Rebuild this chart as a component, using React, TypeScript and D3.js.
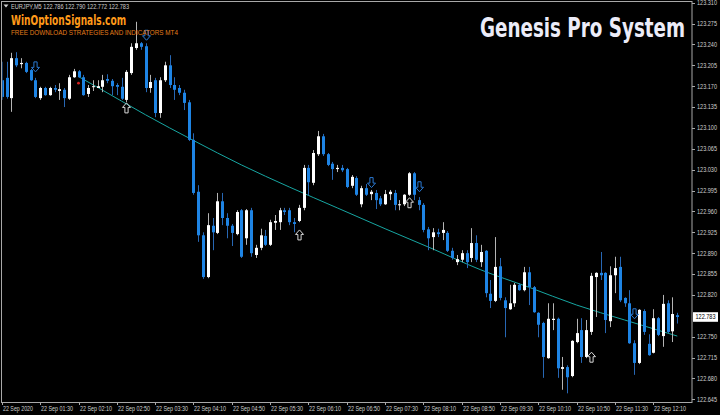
import React, { useLayoutEffect, useRef, useState } from 'react';
import * as d3 from 'd3';

const W = 720;
const H = 415;

const symbol = 'EURJPY,M5';

const opens = [
  123.180, 123.184, 123.150, 123.217, 123.207, 123.209, 123.197, 123.180, 123.150, 123.167,
  123.155, 123.167, 123.162, 123.164, 123.149, 123.185, 123.195, 123.185, 123.157, 123.169,
  123.167, 123.169, 123.182, 123.179, 123.172, 123.169, 123.147, 123.192, 123.234, 123.242,
  123.237, 123.167, 123.180, 123.125, 123.180, 123.205, 123.172, 123.167, 123.159, 123.143,
  123.080, 122.993, 122.920, 122.850, 122.936, 122.924, 122.977, 122.949, 122.936, 122.922,
  122.962, 122.915, 122.962, 122.887, 122.899, 122.919, 122.904, 122.941, 122.942, 122.962,
  122.962, 122.942, 122.944, 122.966, 123.033, 123.008, 123.056, 123.086, 123.056, 123.040,
  123.031, 123.033, 123.031, 123.003, 123.016, 122.972, 122.999, 122.989, 122.991, 122.982,
  122.972, 122.989, 122.991, 122.971, 122.972, 122.988, 123.024, 122.979, 122.971, 122.930,
  122.917, 122.925, 122.924, 122.924, 122.894, 122.875, 122.879, 122.890, 122.882, 122.907,
  122.875, 122.894, 122.822, 122.810, 122.868, 122.811, 122.796, 122.806, 122.837, 122.828,
  122.858, 122.833, 122.790, 122.773, 122.714, 122.778, 122.780, 122.696, 122.699, 122.684,
  122.741, 122.761, 122.716, 122.758, 122.850, 122.857, 122.857, 122.776, 122.853, 122.867,
  122.815, 122.806, 122.739, 122.706, 122.793, 122.738, 122.723, 122.781, 122.751, 122.806,
  122.759, 122.786,
];
const highs = [
  123.211, 123.211, 123.226, 123.227, 123.217, 123.211, 123.199, 123.184, 123.169, 123.169,
  123.169, 123.172, 123.175, 123.167, 123.189, 123.199, 123.197, 123.189, 123.172, 123.180,
  123.180, 123.189, 123.190, 123.182, 123.175, 123.184, 123.197, 123.242, 123.278, 123.244,
  123.242, 123.189, 123.184, 123.185, 123.211, 123.222, 123.185, 123.172, 123.164, 123.147,
  123.091, 123.004, 122.925, 122.957, 122.949, 122.991, 122.991, 122.957, 122.939, 122.962,
  122.964, 122.964, 122.966, 122.904, 122.931, 122.929, 122.946, 122.954, 122.966, 122.966,
  122.966, 122.949, 122.971, 123.038, 123.038, 123.063, 123.095, 123.090, 123.058, 123.043,
  123.038, 123.038, 123.033, 123.021, 123.019, 123.003, 123.006, 122.996, 122.996, 122.986,
  122.996, 122.996, 122.996, 122.979, 122.989, 123.026, 123.026, 122.984, 122.974, 122.934,
  122.932, 122.931, 122.942, 122.927, 122.899, 122.887, 122.895, 122.895, 122.932, 122.920,
  122.904, 122.895, 122.845, 122.917, 122.882, 122.816, 122.837, 122.840, 122.840, 122.867,
  122.867, 122.835, 122.791, 122.775, 122.806, 122.806, 122.782, 122.716, 122.702, 122.744,
  122.780, 122.781, 122.778, 122.857, 122.858, 122.892, 122.858, 122.868, 122.884, 122.884,
  122.816, 122.828, 122.744, 122.796, 122.796, 122.754, 122.796, 122.783, 122.820, 122.811,
  122.816, 122.790,
];
const lows = [
  123.147, 123.149, 123.127, 123.202, 123.200, 123.192, 123.179, 123.150, 123.147, 123.154,
  123.154, 123.160, 123.147, 123.135, 123.147, 123.184, 123.184, 123.154, 123.152, 123.162,
  123.167, 123.160, 123.175, 123.155, 123.155, 123.147, 123.143, 123.189, 123.231, 123.231,
  123.160, 123.159, 123.118, 123.117, 123.177, 123.167, 123.147, 123.155, 123.130, 123.078,
  122.988, 122.909, 122.847, 122.848, 122.895, 122.922, 122.937, 122.915, 122.902, 122.920,
  122.882, 122.904, 122.884, 122.882, 122.895, 122.902, 122.902, 122.929, 122.929, 122.954,
  122.937, 122.925, 122.942, 122.962, 122.987, 123.004, 123.053, 123.053, 123.036, 123.013,
  123.026, 123.026, 122.999, 122.999, 122.986, 122.967, 122.986, 122.979, 122.964, 122.969,
  122.971, 122.979, 122.962, 122.962, 122.969, 122.986, 122.979, 122.962, 122.925, 122.895,
  122.895, 122.917, 122.912, 122.892, 122.879, 122.870, 122.875, 122.865, 122.875, 122.875,
  122.867, 122.816, 122.798, 122.808, 122.811, 122.749, 122.795, 122.800, 122.827, 122.826,
  122.803, 122.790, 122.749, 122.681, 122.713, 122.761, 122.681, 122.661, 122.655, 122.682,
  122.739, 122.706, 122.714, 122.753, 122.783, 122.845, 122.756, 122.766, 122.823, 122.808,
  122.800, 122.738, 122.686, 122.704, 122.753, 122.718, 122.722, 122.751, 122.733, 122.756,
  122.741, 122.772,
];
const closes = [
  123.152, 123.152, 123.217, 123.205, 123.209, 123.194, 123.180, 123.152, 123.167, 123.155,
  123.167, 123.164, 123.165, 123.150, 123.185, 123.195, 123.185, 123.155, 123.167, 123.170,
  123.170, 123.180, 123.179, 123.170, 123.169, 123.149, 123.194, 123.236, 123.242, 123.236,
  123.167, 123.177, 123.125, 123.180, 123.205, 123.172, 123.164, 123.159, 123.142, 123.080,
  122.991, 122.920, 122.850, 122.937, 122.925, 122.977, 122.949, 122.936, 122.924, 122.959,
  122.884, 122.962, 122.890, 122.899, 122.920, 122.904, 122.942, 122.944, 122.962, 122.959,
  122.942, 122.939, 122.966, 123.033, 123.009, 123.058, 123.086, 123.056, 123.038, 123.031,
  123.033, 123.029, 123.001, 123.018, 122.988, 122.999, 122.988, 122.993, 122.979, 122.972,
  122.989, 122.993, 122.971, 122.972, 122.988, 123.024, 122.988, 122.971, 122.929, 122.915,
  122.925, 122.922, 122.929, 122.894, 122.882, 122.880, 122.890, 122.875, 122.907, 122.879,
  122.892, 122.823, 122.810, 122.867, 122.815, 122.798, 122.806, 122.837, 122.828, 122.858,
  122.833, 122.791, 122.770, 122.716, 122.780, 122.780, 122.697, 122.699, 122.682, 122.743,
  122.756, 122.716, 122.761, 122.852, 122.857, 122.853, 122.778, 122.853, 122.865, 122.811,
  122.806, 122.739, 122.706, 122.795, 122.758, 122.719, 122.781, 122.753, 122.805, 122.758,
  122.788, 122.783,
];

// time axis labels, one every 8 bars starting at bar 0
const timeLabels = [
  '22 Sep 2020', '22 Sep 01:30', '22 Sep 02:10', '22 Sep 02:50', '22 Sep 03:30', '22 Sep 04:10',
  '22 Sep 04:50', '22 Sep 05:30', '22 Sep 06:10', '22 Sep 06:50', '22 Sep 07:30', '22 Sep 08:10',
  '22 Sep 08:50', '22 Sep 09:30', '22 Sep 10:10', '22 Sep 10:50', '22 Sep 11:30', '22 Sep 12:10',
];
const labelStep = 8;

const priceTicks = [
  123.310, 123.275, 123.240, 123.205, 123.170, 123.135, 123.100, 123.065, 123.030, 122.995,
  122.960, 122.925, 122.890, 122.855, 122.820, 122.750, 122.715, 122.680, 122.645,
];

// moving average
const maBars = [16, 20, 30, 40, 50, 60, 70, 80, 90, 100, 110, 120, 130, 141];
const maValues = [
  123.186, 123.168, 123.122, 123.079, 123.038, 123.001, 122.966, 122.931, 122.897, 122.862,
  122.833, 122.803, 122.778, 122.751,
];

// signal arrows: bar index and price of the arrow tip
const upArrowBars = [26, 62, 85, 123];
const upArrowTips = [123.142, 122.929, 122.983, 122.724];
const downArrowBars = [7, 30, 77, 87, 132];
const downArrowTips = [123.194, 123.247, 123.000, 122.993, 122.780];

const dotBar = 16;
const dotPrice = 123.175;

const PL = 2;
const PR = 692;
const PT = 1;
const PB = 402;

const BULL = '#ffffff';
const BEAR = '#1e84e4';
const BULL_WICK = '#b4b4b4';
const BEAR_WICK = '#2767b4';
const FRAME = '#a8a8a8';
const TXT = '#cfcfcf';
const FONT = "'Liberation Sans', 'DejaVu Sans', sans-serif";
const BOLD_FONT = "'DejaVu Sans Condensed', 'DejaVu Sans', sans-serif";

// Text that is squeezed horizontally to an exact width with a transform
function FitText(props: {
  x: number;
  y: number;
  width: number;
  size: number;
  fill: string;
  family: string;
  weight?: string;
  children: string;
}) {
  const ref = useRef<SVGTextElement>(null);
  const [sx, setSx] = useState(0.6);
  useLayoutEffect(() => {
    if (ref.current) {
      const len = ref.current.getComputedTextLength();
      if (len > 0) setSx(props.width / len);
    }
  }, [props.width, props.children]);
  return (
    <g transform={`translate(${props.x},${props.y}) scale(${sx},1)`}>
      <text
        ref={ref}
        x={0}
        y={0}
        fontFamily={props.family}
        fontWeight={props.weight || 'normal'}
        fontSize={props.size}
        fill={props.fill}
      >
        {props.children}
      </text>
    </g>
  );
}

export default function App() {
  const n = opens.length;
  const x = d3.scaleLinear().domain([0, n - 1]).range([1.88, 1.88 + 4.79 * (n - 1)]);
  const y = d3.scaleLinear().domain([122.645, 123.31]).range([399.3, 2.7]);

  const ma = d3
    .line<number>()
    .x((_, i) => x(maBars[i]))
    .y((d) => y(d))
    .curve(d3.curveMonotoneX)(maValues) as string;

  const last = n - 1;
  const header = `${symbol}  ${opens[last].toFixed(3)} ${highs[last].toFixed(3)} ${lows[last].toFixed(3)} ${closes[last].toFixed(3)}`;

  const upPath = (cx: number, ty: number) =>
    `M${cx},${ty} L${cx + 4},${ty + 4.5} L${cx + 1.6},${ty + 4.5} L${cx + 1.6},${ty + 10} L${cx - 1.6},${ty + 10} L${cx - 1.6},${ty + 4.5} L${cx - 4},${ty + 4.5} Z`;
  const downPath = (cx: number, ty: number) =>
    `M${cx},${ty} L${cx + 4},${ty - 4.5} L${cx + 1.6},${ty - 4.5} L${cx + 1.6},${ty - 10} L${cx - 1.6},${ty - 10} L${cx - 1.6},${ty - 4.5} L${cx - 4},${ty - 4.5} Z`;

  return (
    <svg
      width={W}
      height={H}
      viewBox={`0 0 ${W} ${H}`}
      style={{ position: 'absolute', left: 0, top: 0, display: 'block', background: '#000' }}
    >
      <defs>
        <clipPath id="plot">
          <rect x={PL + 0.5} y={PT + 0.5} width={PR - PL - 1} height={PB - PT - 1} />
        </clipPath>
      </defs>
      <rect x={0} y={0} width={W} height={H} fill="#000" />

      <g clipPath="url(#plot)">
        {/* moving average */}
        <path d={ma} fill="none" stroke="#17a6a2" strokeWidth={1} />
        {opens.map((o, i) => {
          const c = closes[i];
          const bull = c >= o;
          const cx = Math.round(x(i));
          const yt = y(Math.max(o, c));
          const yb = y(Math.min(o, c));
          const hgt = Math.max(1, yb - yt);
          return (
            <g key={i}>
              <line
                x1={cx + 0.5}
                x2={cx + 0.5}
                y1={y(highs[i])}
                y2={y(lows[i])}
                stroke={bull ? BULL_WICK : BEAR_WICK}
                strokeWidth={1}
              />
              <rect x={cx - 1} y={yt} width={3} height={hgt} fill={bull ? BULL : BEAR} />
            </g>
          );
        })}
        <circle cx={x(dotBar)} cy={y(dotPrice)} r={1.4} fill="#d42020" />
        {upArrowBars.map((b, i) => (
          <path
            key={'u' + i}
            d={upPath(Math.round(x(b)) + 0.5, y(upArrowTips[i]))}
            fill="none"
            stroke="#d8d8d8"
            strokeWidth={1}
          />
        ))}
        {downArrowBars.map((b, i) => (
          <path
            key={'d' + i}
            d={downPath(Math.round(x(b)) + 0.5, y(downArrowTips[i]))}
            fill="none"
            stroke="#2a78d0"
            strokeWidth={1}
          />
        ))}
      </g>

      {/* frame */}
      <rect x={PL - 0.5} y={PT + 0.5} width={PR - PL + 0.5} height={PB - PT} fill="none" stroke={FRAME} strokeWidth={1} />

      {/* price axis */}
      {priceTicks.map((p) => (
        <g key={p}>
          <line x1={PR} x2={PR + 3} y1={Math.round(y(p)) + 0.5} y2={Math.round(y(p)) + 0.5} stroke={FRAME} />
          <text
            x={697}
            y={y(p) + 2.4}
            fontFamily={FONT}
            fontSize={6.6}
            fill={TXT}
            textLength={20}
            lengthAdjust="spacingAndGlyphs"
          >
            {p.toFixed(3)}
          </text>
        </g>
      ))}
      <rect x={693} y={y(closes[last]) - 4.8} width={25} height={9.6} fill="#ffffff" />
      <text
        x={705.5}
        y={y(closes[last]) + 2.4}
        textAnchor="middle"
        fontFamily={FONT}
        fontSize={6.6}
        fill="#000"
        textLength={20}
        lengthAdjust="spacingAndGlyphs"
      >
        {closes[last].toFixed(3)}
      </text>

      {/* time axis */}
      {timeLabels.map((t, k) => {
        const tx = Math.round(x(k * labelStep)) + 0.5;
        return (
          <g key={t}>
            <line x1={tx} x2={tx} y1={PB} y2={PB + 3} stroke={FRAME} />
            <text
              x={tx + 0.5}
              y={410.5}
              fontFamily={FONT}
              fontSize={6.4}
              fill={TXT}
              textLength={k === 0 ? 30 : 32}
              lengthAdjust="spacingAndGlyphs"
            >
              {t}
            </text>
          </g>
        );
      })}

      {/* header */}
      <path d="M3.5,4.5 L8.5,4.5 L6,7.5 Z" fill={TXT} />
      <text x={11} y={8.6} fontFamily={FONT} fontSize={6.6} fill={TXT} textLength={118} lengthAdjust="spacingAndGlyphs">
        {header}
      </text>
      <FitText x={11} y={24.5} width={115} size={14} fill="#ff9a1a" family={BOLD_FONT} weight="bold">
        WinOptionSignals.com
      </FitText>
      <FitText x={11} y={35} width={167} size={7} fill="#e47e1a" family={FONT}>
        FREE DOWNLOAD STRATEGIES AND INDICATORS MT4
      </FitText>
      <FitText x={480} y={36.8} width={205} size={27} fill="#ececf8" family={BOLD_FONT} weight="bold">
        Genesis Pro System
      </FitText>
    </svg>
  );
}
